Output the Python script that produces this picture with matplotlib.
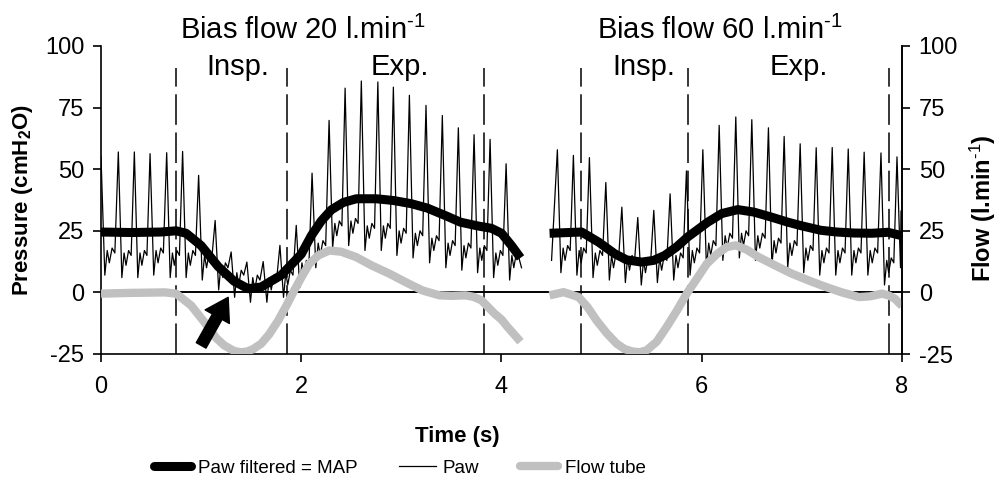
import numpy as np
import matplotlib
matplotlib.use("Agg")
import matplotlib.pyplot as plt
from matplotlib.lines import Line2D

plt.rcParams['font.family'] = ['Liberation Sans', 'DejaVu Sans']
plt.rcParams['mathtext.fontset'] = 'custom'
plt.rcParams['mathtext.rm'] = 'Liberation Sans'
plt.rcParams['mathtext.bf'] = 'Liberation Sans:bold'
plt.rcParams['mathtext.it'] = 'Liberation Sans:italic'
plt.rcParams['axes.unicode_minus'] = False

# ---------------- data ----------------
# Paw (raw airway pressure) – segment 1 (bias flow 20 l/min)
paw1_peak_t = [0.0, 0.173, 0.333, 0.49, 0.656, 0.815, 0.975, 1.14, 1.30, 1.457, 1.62, 1.787,
               1.95, 2.108, 2.278, 2.438, 2.60, 2.765, 2.92, 3.08, 3.246, 3.409, 3.569,
               3.726, 3.886, 4.046]
paw1_peak_v = [55, 57, 57, 56.3, 56.7, 57.2, 47.5, 29.2, 16.4, 12.3, 12.5, 19.1, 27.2, 48.4,
               69.8, 82.9, 85.8, 85.4, 83.3, 80, 75.9, 71.8, 66.8, 64, 62.1, 52.2]
paw1_trough_v = [7, 6, 6, 7, 6, 6, 5, 1, -2, -4, -4, -2, 2, 10, 18, 19, 17, 17, 15, 14, 12,
                 10, 9, 8, 6, 5]
paw1_end = (4.20, 10)

# Paw – segment 2 (bias flow 60 l/min)
paw2_start = (4.50, 13)
paw2_peak_t = [4.558, 4.718, 4.878, 5.042, 5.202, 5.361, 5.521, 5.684, 5.847, 6.011, 6.174,
               6.34, 6.50, 6.666, 6.823, 6.983, 7.143, 7.303, 7.463, 7.622, 7.79, 7.95]
paw2_peak_v = [57.9, 55.6, 54.7, 44.6, 34.6, 30.4, 33.3, 40, 49.3, 57.9, 67.8, 71.2, 70.1,
               66.8, 63.3, 60.3, 58.7, 58.8, 58.2, 56.9, 56.6, 55.0]
paw2_trough_v = [8, 7, 6, 5, 4, 3, 4, 5, 7, 10, 13, 14, 13, 11, 10, 8, 7, 7, 7, 7, 3, 10]
paw2_end = (7.99, 33)

# MAP (filtered Paw)
map1_t = [0.0, 0.3, 0.6, 0.75, 0.85, 1.0, 1.17, 1.33, 1.47, 1.6, 1.8, 2.0, 2.1, 2.2, 2.3,
          2.42, 2.55, 2.75, 2.92, 3.1, 3.26, 3.45, 3.59, 3.76, 3.9, 4.0, 4.1, 4.19]
map1_v = [24.5, 24.3, 24.5, 25, 24, 19, 10.5, 4.5, 1.5, 2.2, 7, 15.5, 23, 29, 33.5, 36.5,
          38, 38, 37.3, 36, 34.2, 31, 28.5, 27, 26, 24, 19, 14]
map2_t = [4.48, 4.8, 4.97, 5.13, 5.25, 5.40, 5.52, 5.63, 5.75, 5.86, 6.06, 6.2, 6.36, 6.52,
          6.7, 6.86, 7.0, 7.19, 7.35, 7.52, 7.7, 7.86, 8.0]
map2_v = [24, 24.5, 20.4, 15.7, 13.2, 12.3, 13, 15, 18.5, 22.5, 28.5, 32, 33.6, 32.6, 30.5,
          28.5, 27, 25.2, 24.5, 24.1, 24, 24.4, 23]

# Flow tube
flow1_t = [0.0, 0.3, 0.64, 0.75, 0.9, 1.07, 1.15, 1.23, 1.33, 1.4, 1.46, 1.52, 1.6, 1.68,
           1.77, 1.85, 1.93, 2.0, 2.08, 2.17, 2.28, 2.4, 2.55, 2.7, 2.88, 3.05, 3.21, 3.38,
           3.5, 3.64, 3.72, 3.8, 3.93, 4.0, 4.06, 4.19]
flow1_v = [-0.5, -0.2, 0, -0.5, -5.3, -14, -18.5, -21.5, -23.8, -24.3, -24, -23, -20.8, -17,
           -11.4, -5.5, 0.8, 6, 11.6, 15, 17, 16.5, 14.3, 11, 7.6, 4, 0.8, -1.2,
           -1.4, -1.2, -1.8, -3.2, -8.6, -11, -14, -20]
flow2_t = [4.48, 4.62, 4.77, 4.86, 4.95, 5.05, 5.15, 5.23, 5.31, 5.38, 5.45, 5.55, 5.65,
           5.75, 5.85, 5.95, 6.05, 6.15, 6.25, 6.34, 6.45, 6.57, 6.73, 6.9, 7.07, 7.24,
           7.4, 7.57, 7.68, 7.8, 7.87, 7.93, 8.0]
flow2_v = [-1.2, 0.1, -1.9, -6, -11.4, -16.5, -20.8, -23, -24, -24.3, -23.5, -20, -14,
           -7.5, -0.5, 5.5, 11.6, 15.5, 18.4, 19.1, 17.3, 14.3, 11, 7.6, 4.8, 2.2,
           0, -1.9, -1.6, -0.5, -1.3, -2.6, -5.5]

phase_lines = [0.75, 1.86, 3.83, 4.79, 5.86, 7.87]
xticks = [0, 2, 4, 6, 8]
yticks = [-25, 0, 25, 50, 75, 100]

# within-cycle waveform template (fraction of cycle, offset above trough); style only
cyc_frac = [0.22, 0.36, 0.48, 0.64, 0.80]
cyc_off = [0, 10, 5, 11, 9]


def build_paw(peak_t, peak_v, trough_v, start, end):
    ts, vs = [], []
    if start is not None:
        ts.append(start[0]); vs.append(start[1])
    per = float(np.median(np.diff(peak_t)))
    n = len(peak_t)
    for k in range(n):
        tp = peak_t[k]
        d = (peak_t[k + 1] - tp) if k + 1 < n else per
        ts.append(tp); vs.append(peak_v[k])
        for f, o in zip(cyc_frac, cyc_off):
            tt = tp + f * d
            if tt < end[0]:
                ts.append(tt); vs.append(trough_v[k] + o)
    ts.append(end[0]); vs.append(end[1])
    return ts, vs


p1t, p1v = build_paw(paw1_peak_t, paw1_peak_v, paw1_trough_v, None, paw1_end)
p2t, p2v = build_paw(paw2_peak_t, paw2_peak_v, paw2_trough_v, paw2_start, paw2_end)

# ---------------- figure ----------------
fig = plt.figure(figsize=(10.04, 4.96), dpi=100)
ax = fig.add_axes([101 / 1004, 1 - 354 / 496, 801 / 1004, 308 / 496])
ax.set_xlim(0, 8)
ax.set_ylim(-25, 100)

ax.vlines(phase_lines, -25, 91, colors='black', linewidth=1.1,
          linestyles=(0, (20, 5)), zorder=1)
ax.axhline(0, color='black', linewidth=1.4, zorder=2)

ax.plot(p1t, p1v, color='black', linewidth=0.9, zorder=3)
ax.plot(p2t, p2v, color='black', linewidth=0.9, zorder=3)
ax.plot(flow1_t, flow1_v, color='#c0c0c0', linewidth=6, solid_capstyle='butt',
        solid_joinstyle='round', zorder=4)
ax.plot(flow2_t, flow2_v, color='#c0c0c0', linewidth=6, solid_capstyle='butt',
        solid_joinstyle='round', zorder=4)
ax.plot(map1_t, map1_v, color='black', linewidth=6.5, solid_capstyle='butt',
        solid_joinstyle='round', zorder=5)
ax.plot(map2_t, map2_v, color='black', linewidth=6.5, solid_capstyle='butt',
        solid_joinstyle='round', zorder=5)

ax.annotate('', xy=(1.27, -2.0), xytext=(1.0, -21.5),
            arrowprops=dict(arrowstyle='simple,head_length=0.8,head_width=1.0,tail_width=0.4',
                            color='black', mutation_scale=20, shrinkA=0, shrinkB=0),
            zorder=6)

ax.spines['top'].set_visible(False)
for s in ['left', 'bottom', 'right']:
    ax.spines[s].set_linewidth(1.2)

ax.set_xticks(xticks)
ax.set_yticks(yticks)
ax.tick_params(axis='both', direction='out', length=6, width=1.2, labelsize=17)
ax.tick_params(axis='x', pad=10)
ax.tick_params(axis='y', pad=6)

ax2 = ax.twinx()
ax2.set_ylim(-25, 100)
ax2.set_yticks(yticks)
ax2.tick_params(axis='y', direction='out', length=6, width=1.2, labelsize=17, pad=6)
for s in ['top', 'left', 'bottom']:
    ax2.spines[s].set_visible(False)
ax2.spines['right'].set_linewidth(1.2)

# annotations
ax.text(2.02, 106.5, r'Bias flow 20 l.min$^{\text{-1}}$', ha='center', va='center', fontsize=21)
ax.text(6.18, 106.5, r'Bias flow 60 l.min$^{\text{-1}}$', ha='center', va='center', fontsize=21)
ax.text(1.37, 91.5, 'Insp.', ha='center', va='center', fontsize=21)
ax.text(2.98, 91.5, 'Exp.', ha='center', va='center', fontsize=21)
ax.text(5.42, 91.5, 'Insp.', ha='center', va='center', fontsize=21)
ax.text(6.97, 91.5, 'Exp.', ha='center', va='center', fontsize=21)

fig.text(0.022, 0.597, r'Pressure (cmH$_\mathbf{2}$O)', rotation=90, ha='center',
         va='center', fontsize=16, fontweight='bold')
fig.text(0.979, 0.58, r'Flow (l.min$^\mathbf{\text{-1}}$)', rotation=90, ha='center',
         va='center', fontsize=17, fontweight='bold')
fig.text(0.455, 0.119, 'Time (s)', ha='center', va='center', fontsize=16, fontweight='bold')

handles = [Line2D([], [], color='black', linewidth=6.5, solid_capstyle='round'),
           Line2D([], [], color='black', linewidth=0.9),
           Line2D([], [], color='#c0c0c0', linewidth=6, solid_capstyle='round')]
labels = ['Paw filtered = MAP', 'Paw', 'Flow tube']
fig.legend(handles, labels, loc='center', bbox_to_anchor=(0.398, 0.056), ncol=3,
           frameon=False, fontsize=13.5, handlelength=2.0, handletextpad=0.35,
           columnspacing=2.2)

fig.savefig('out.png', dpi=100)
